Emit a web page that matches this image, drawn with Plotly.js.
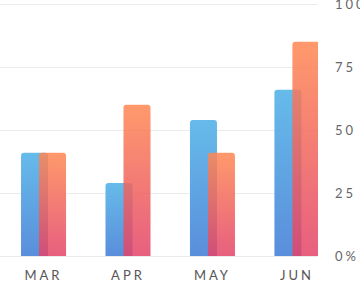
<!DOCTYPE html>
<html>
<head>
<meta charset="utf-8">
<script src="https://cdn.plot.ly/plotly-3.0.1.min.js"></script>
<style>
  html, body { margin: 0; padding: 0; background: #fff; overflow: hidden; }
  #chart { width: 360px; height: 282px; }
  .xtick text, .ytick text { letter-spacing: 3px; }
</style>
</head>
<body>
<div id="chart"></div>
<script>
const months = ['MAR', 'APR', 'MAY', 'JUN'];
const seriesBlue = [41, 29, 54, 66];
const seriesOrange = [41, 60, 41, 85];
const yTickVals = [0, 25, 50, 75, 100];
const yTickText = ['0%', '25', '50', '75', '100'];

const traces = [
  {
    type: 'bar', x: months, y: seriesBlue, name: 'A',
    width: 0.32, offset: -0.266,
    marker: { color: '#5fa6e2', cornerradius: 3, line: { width: 0 } },
    hoverinfo: 'none'
  },
  {
    type: 'bar', x: months, y: seriesOrange, name: 'B',
    width: 0.32, offset: -0.053, opacity: 0.85,
    marker: { color: '#f06a66', cornerradius: 3, line: { width: 0 } },
    hoverinfo: 'none'
  }
];

const layout = {
  width: 360, height: 282,
  margin: { l: 0, r: 42, t: 3, b: 26, pad: 0 },
  paper_bgcolor: '#ffffff', plot_bgcolor: '#ffffff',
  barmode: 'overlay',
  showlegend: false,
  font: { family: 'Lato, sans-serif', size: 13, color: '#5a5a5a' },
  xaxis: {
    type: 'category', range: [-0.515, 3.25],
    showgrid: false, zeroline: false, showline: false, ticks: '',
    ticklabelstandoff: 10,
    tickfont: { family: 'Lato, sans-serif', size: 13, color: '#555' },
    fixedrange: true
  },
  yaxis: {
    side: 'right', range: [0, 100.4],
    tickvals: yTickVals, ticktext: yTickText,
    showgrid: true, gridcolor: '#ebebeb', gridwidth: 1,
    zeroline: true, zerolinecolor: '#ebebeb', zerolinewidth: 1,
    showline: false, ticks: '', ticklabelstandoff: 16,
    ticklabeloverflow: 'allow',
    tickfont: { family: 'Lato, sans-serif', size: 13, color: '#666' },
    fixedrange: true
  }
};

Plotly.newPlot('chart', traces, layout, { staticPlot: true, displayModeBar: false }).then(function (gd) {
  const svgNS = 'http://www.w3.org/2000/svg';
  const svg = gd.querySelector('.main-svg');
  let defs = svg.querySelector('defs');
  if (!defs) { defs = document.createElementNS(svgNS, 'defs'); svg.insertBefore(defs, svg.firstChild); }
  const grads = [
    { id: 'gBlue', top: '#66bbea', bottom: '#5a8edb' },
    { id: 'gOrange', top: '#ff8852', bottom: '#e44469' }
  ];
  grads.forEach(function (g) {
    const lg = document.createElementNS(svgNS, 'linearGradient');
    lg.setAttribute('id', g.id);
    lg.setAttribute('x1', '0'); lg.setAttribute('y1', '0');
    lg.setAttribute('x2', '0'); lg.setAttribute('y2', '1');
    const s1 = document.createElementNS(svgNS, 'stop');
    s1.setAttribute('offset', '0'); s1.setAttribute('stop-color', g.top);
    const s2 = document.createElementNS(svgNS, 'stop');
    s2.setAttribute('offset', '1'); s2.setAttribute('stop-color', g.bottom);
    lg.appendChild(s1); lg.appendChild(s2);
    defs.appendChild(lg);
  });
  const traceGroups = gd.querySelectorAll('.barlayer .trace');
  traceGroups.forEach(function (tg, i) {
    tg.querySelectorAll('.point path').forEach(function (p) {
      p.style.fill = 'url(#' + grads[i].id + ')';
    });
  });
});
</script>
</body>
</html>
